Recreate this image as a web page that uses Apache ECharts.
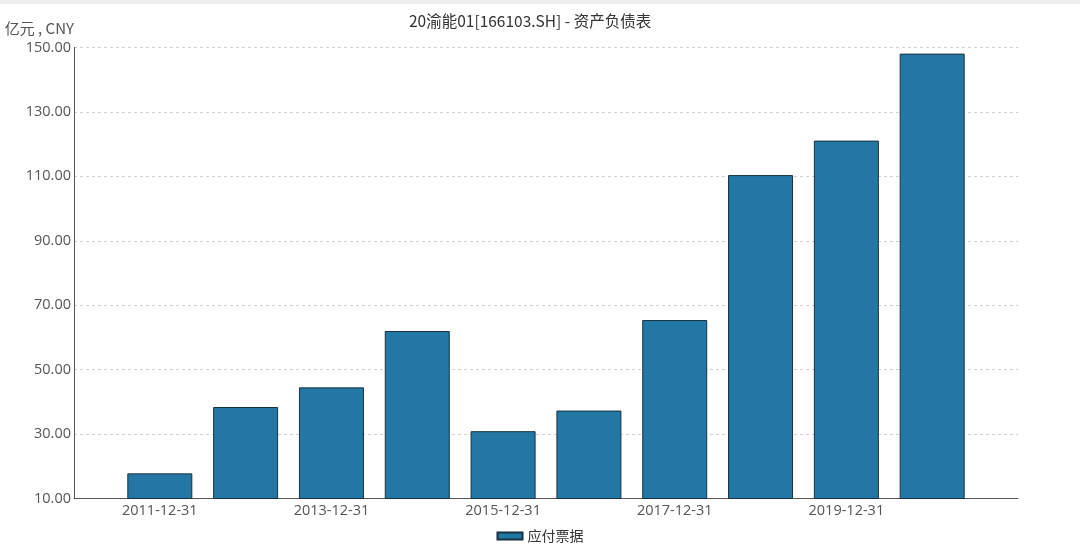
<!DOCTYPE html>
<html>
<head>
<meta charset="utf-8">
<script src="https://cdn.jsdelivr.net/npm/echarts@6/dist/echarts.min.js"></script>
<style>
html,body{margin:0;padding:0;background:#fff;}
#top{height:4px;background:#eeeeee;width:1080px;}
#chart{width:1080px;height:544px;}
</style>
</head>
<body>
<div id="top"></div>
<div id="chart"></div>
<script>
var titleText = '20渝能01[166103.SH] - 资产负债表';
var unitName = '亿元 , CNY';
var seriesName = '应付票据';
var dates = ['2011-12-31','2012-12-31','2013-12-31','2014-12-31','2015-12-31','2016-12-31','2017-12-31','2018-12-31','2019-12-31','2020-12-31'];
var values = [17.8, 38.4, 44.5, 62.0, 30.9, 37.3, 65.4, 110.4, 121.1, 148.1];
var yTicks = {min: 10, max: 150, interval: 20};

var categories = [''].concat(dates, ['']);
var seriesData = ['-'].concat(values, ['-']);

var chart = echarts.init(document.getElementById('chart'));
chart.setOption({
  animation: false,
  backgroundColor: '#ffffff',
  title: {
    text: titleText,
    left: 404,
    top: 4,
    textStyle: {fontSize: 15.5, fontWeight: 'normal', color: '#333', fontFamily: 'Noto Sans CJK SC'}
  },
  legend: {
    bottom: 0,
    left: 'center',
    icon: 'rect',
    itemWidth: 25,
    itemHeight: 7,
    itemGap: 5,
    textStyle: {fontSize: 14, color: '#333', fontFamily: 'Noto Sans CJK SC'},
    data: [seriesName]
  },
  grid: {left: 74, right: 62, top: 43.5, bottom: 49.5, containLabel: false},
  xAxis: {
    type: 'category',
    data: categories,
    boundaryGap: false,
    axisLine: {lineStyle: {color: '#555', width: 1}},
    axisTick: {show: false},
    axisLabel: {
      interval: function (idx) { return idx % 2 === 1; },
      color: '#555', fontSize: 14.5, margin: 5, fontFamily: 'Open Sans'
    },
    splitLine: {show: false}
  },
  yAxis: {
    type: 'value',
    name: unitName,
    nameLocation: 'end',
    nameGap: 12,
    nameTextStyle: {color: '#555', fontSize: 15, align: 'right', padding: [0, 0, 0, 0], fontFamily: 'Noto Sans CJK SC'},
    min: yTicks.min,
    max: yTicks.max,
    interval: yTicks.interval,
    axisLine: {show: true, lineStyle: {color: '#555', width: 1}},
    axisTick: {show: false},
    axisLabel: {
      color: '#555', fontSize: 14.5, margin: 3, fontFamily: 'Open Sans',
      formatter: function (v) { return v.toFixed(2); }
    },
    splitLine: {lineStyle: {color: '#d0d0d0', type: [3, 3], width: 1}}
  },
  series: [{
    name: seriesName,
    type: 'bar',
    data: seriesData,
    barWidth: 65,
    itemStyle: {color: '#2377a4', borderColor: '#17323f', borderWidth: 1}
  }]
});
</script>
</body>
</html>
